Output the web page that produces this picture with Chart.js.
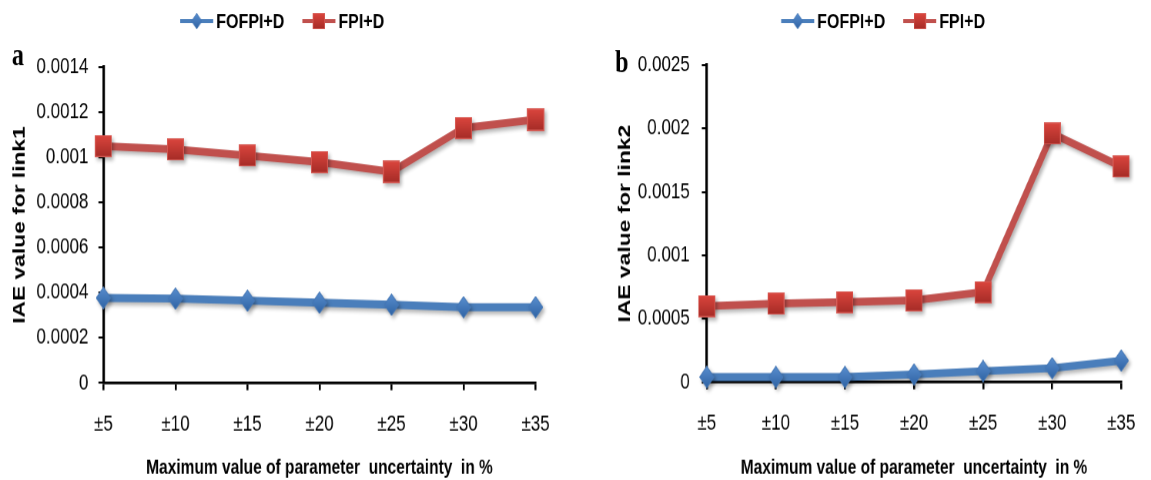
<!DOCTYPE html>
<html>
<head>
<meta charset="utf-8">
<title>IAE value vs parameter uncertainty</title>
<script src="https://cdn.jsdelivr.net/npm/chart.js@4.4.1/dist/chart.umd.min.js"></script>
<style>
  body { margin: 0; background: #fff; width: 1151px; height: 480px; position: relative; overflow: hidden; }
  /* the figure is drawn a little squat and stretched tall, like the printed plot */
  canvas { position: absolute; top: 0; transform: scaleY(1.3); transform-origin: 0 0; }
  #chartLink1 { left: 0; }
  #chartLink2 { left: 576px; }
</style>
</head>
<body>
<canvas id="chartLink1" width="576" height="369"></canvas>
<canvas id="chartLink2" width="575" height="369"></canvas>
<script>
// x categories: maximum parameter uncertainty in %
const uncertainty = ['±5', '±10', '±15', '±20', '±25', '±30', '±35'];

// IAE for link 1
const fofpiLink1 = [0.000377, 0.000374, 0.000365, 0.000356, 0.000347, 0.000336, 0.000336];
const fpiLink1 = [0.00105, 0.001035, 0.001008, 0.000979, 0.000936, 0.00113, 0.001167];

// IAE for link 2
const fofpiLink2 = [0.00004, 0.00004, 0.00004, 0.00006, 0.000087, 0.00011, 0.00017];
const fpiLink2 = [0.0006, 0.000619, 0.000631, 0.000645, 0.00071, 0.00196, 0.0017];

// y tick labels
const yTicksLink1 = ['0', '0.0002', '0.0004', '0.0006', '0.0008', '0.001', '0.0012', '0.0014'];
const yTicksLink2 = ['0', '0.0005', '0.001', '0.0015', '0.002', '0.0025'];

const SANS = '"Liberation Sans", Arial, sans-serif';
const STRETCH = 1.3;

// Marker bitmap with a top-to-bottom gradient, drawn at 4x and handed to Chart.js as an image
function makeMarker(shape, w, h, light, dark, edge) {
    const r = 4;
    const c = document.createElement('canvas');
    c.width = w * r;
    c.height = h * r;
    const g = c.getContext('2d');
    g.scale(r, r);
    const grad = g.createLinearGradient(0, 0, 0, h);
    grad.addColorStop(0, light);
    grad.addColorStop(1, dark);
    g.fillStyle = grad;
    g.beginPath();
    if (shape === 'diamond') {
        g.moveTo(w / 2, 0.3);
        g.lineTo(w - 0.3, h / 2);
        g.lineTo(w / 2, h - 0.3);
        g.lineTo(0.3, h / 2);
    } else {
        g.rect(0.4, 0.4, w - 0.8, h - 0.8);
    }
    g.closePath();
    g.fill();
    g.strokeStyle = edge;
    g.lineWidth = 0.8;
    g.stroke();
    const img = new Image(w, h);
    img.src = c.toDataURL();
    return img;
}

const blueDiamond = makeMarker('diamond', 15, 17, '#5a8fd0', '#2f63a3', '#4577b5');
const redSquare = makeMarker('square', 17, 17, '#dc463e', '#a52c27', '#d9605a');

// Soft drop shadow under lines and markers
const dropShadow = {
    id: 'dropShadow',
    beforeDatasetsDraw(chart) {
        const ctx = chart.ctx;
        ctx.save();
        ctx.shadowColor = 'rgba(0, 0, 0, 0.3)';
        ctx.shadowBlur = 4;
        ctx.shadowOffsetX = 2.5;
        ctx.shadowOffsetY = 3;
    },
    afterDatasetsDraw(chart) {
        chart.ctx.restore();
    }
};

// Panel letter and a legend with line + marker samples
const panelDecor = {
    id: 'panelDecor',
    afterDraw(chart, args, opts) {
        const ctx = chart.ctx;
        ctx.save();
        ctx.fillStyle = '#000';
        ctx.font = 'bold 24px "Liberation Serif", "Times New Roman", serif';
        ctx.textBaseline = 'alphabetic';
        ctx.textAlign = 'left';
        ctx.fillText(opts.tag, opts.tagX, opts.tagY);

        let x = opts.legendX;
        const y = opts.legendY;
        ctx.font = 'bold 16px ' + SANS;
        ctx.textBaseline = 'middle';
        chart.data.datasets.forEach((ds) => {
            ctx.strokeStyle = ds.borderColor;
            ctx.lineWidth = 3;
            ctx.beginPath();
            ctx.moveTo(x, y);
            ctx.lineTo(x + 33, y);
            ctx.stroke();
            const m = ds.pointStyle;
            ctx.drawImage(m, x + 16.5 - m.width * 0.36, y - m.height * 0.36, m.width * 0.72, m.height * 0.72);
            ctx.fillStyle = '#000';
            ctx.fillText(ds.label, x + 36, y + 1);
            x += 36 + ctx.measureText(ds.label).width + 18;
        });
        ctx.restore();
    }
};

function buildChart(id, fofpi, fpi, yMax, yStep, yTicks, yTitle, geom) {
    const ctx = document.getElementById(id).getContext('2d');
    return new Chart(ctx, {
        type: 'line',
        data: {
            labels: uncertainty,
            datasets: [
                {
                    label: 'FOFPI+D',
                    data: fofpi,
                    borderColor: '#4a7ebb',
                    borderWidth: 6,
                    pointStyle: blueDiamond,
                    pointRadius: 8,
                    clip: false,
                    tension: 0,
                },
                {
                    label: 'FPI+D',
                    data: fpi,
                    borderColor: '#c0504d',
                    borderWidth: 6,
                    pointStyle: redSquare,
                    pointRadius: 8,
                    clip: false,
                    tension: 0,
                },
            ],
        },
        options: {
            responsive: false,
            animation: false,
            devicePixelRatio: STRETCH,
            events: [],
            layout: { padding: geom.padding },
            plugins: {
                legend: { display: false },
                tooltip: { enabled: false },
                panelDecor: geom.decor,
            },
            scales: {
                x: {
                    type: 'category',
                    offset: false,
                    afterFit: (s) => { s.height = geom.xHeight; },
                    border: { display: true, color: '#000', width: 2.2 },
                    grid: { display: true, drawOnChartArea: false, drawTicks: true, tickLength: 5.5, color: '#000', lineWidth: 2 },
                    ticks: { padding: 16, color: '#000', font: { family: SANS, size: 17 }, maxRotation: 0, autoSkip: false },
                    title: {
                        display: true,
                        text: 'Maximum value of parameter  uncertainty  in %',
                        color: '#000',
                        font: { family: SANS, size: 15.5, weight: 'bold' },
                        padding: { top: 0, bottom: 0 },
                    },
                },
                y: {
                    min: 0,
                    max: yMax,
                    afterFit: (s) => { s.width = geom.yWidth; },
                    border: { display: true, color: '#000', width: 2.5 },
                    grid: { display: true, drawOnChartArea: false, drawTicks: true, tickLength: 5, color: '#000', lineWidth: 1.6 },
                    ticks: {
                        stepSize: yStep,
                        padding: geom.yPad,
                        color: '#000',
                        font: { family: SANS, size: 17 },
                        callback: (v, i) => yTicks[i],
                    },
                    title: {
                        display: true,
                        text: yTitle,
                        color: '#000',
                        font: { family: SANS, size: 17.5, weight: 'bold' },
                        padding: 0,
                    },
                },
            },
        },
        plugins: [dropShadow, panelDecor],
    });
}

Promise.all([blueDiamond.decode(), redSquare.decode()]).then(() => {
    buildChart('chartLink1', fofpiLink1, fpiLink1, 0.0014, 0.0002, yTicksLink1, 'IAE value for link1', {
        padding: { top: 51.5, right: 41, bottom: 0, left: 9.5 },
        yWidth: 93.8,
        yPad: 10,
        xHeight: 74.8,
        decor: { tag: 'a', tagX: 12, tagY: 50, legendX: 180, legendY: 16.2 },
    });

    buildChart('chartLink2', fofpiLink2, fpiLink2, 0.0025, 0.0005, yTicksLink2, 'IAE value for link2', {
        padding: { top: 50, right: 15, bottom: 0, left: 38.5 },
        yWidth: 92.2,
        yPad: 12,
        xHeight: 75.5,
        decor: { tag: 'b', tagX: 39, tagY: 55.4, legendX: 205, legendY: 16.2 },
    });
});
</script>
</body>
</html>
